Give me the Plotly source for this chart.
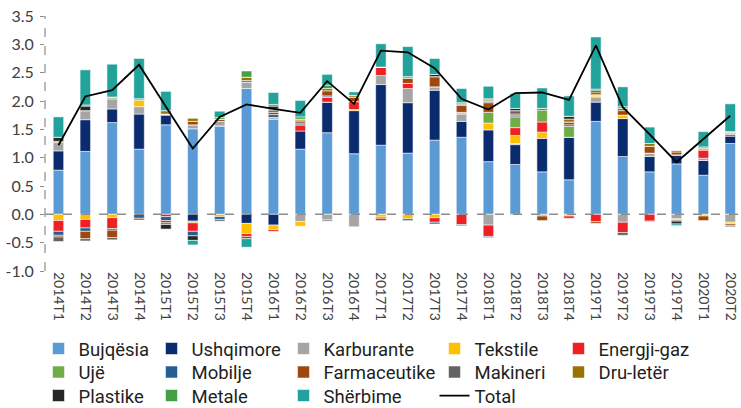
import plotly.graph_objects as go

categories = ["2014T1", "2014T2", "2014T3", "2014T4", "2015T1", "2015T2", "2015T3", "2015T4",
              "2016T1", "2016T2", "2016T3", "2016T4", "2017T1", "2017T2", "2017T3", "2017T4",
              "2018T1", "2018T2", "2018T3", "2018T4", "2019T1", "2019T2", "2019T3", "2019T4",
              "2020T1", "2020T2"]

bujqesia = [0.78, 1.11, 1.62, 1.15, 1.58, 1.51, 1.56, 2.22, 1.68, 1.15, 1.44, 1.07, 1.22, 1.08, 1.31, 1.36,
            0.93, 0.88, 0.75, 0.61, 1.64, 1.02, 0.75, 0.89, 0.69, 1.25]
ushqimore = [0.34, 0.56, 0.24, 0.62, 0.17, -0.12, 0.0, -0.16, -0.19, 0.32, 0.54, 0.76, 1.07, 0.89, 0.88, 0.28,
             0.56, 0.35, 0.59, 0.75, 0.34, 0.67, 0.27, 0.16, 0.26, 0.13]
karburante = [0.15, 0.16, 0.18, 0.13, 0.02, 0.07, 0.08, 0.11, 0.03, -0.13, -0.10, -0.22, 0.16, 0.25, 0.06, 0.13,
              -0.19, 0.02, -0.03, 0.0, 0.09, -0.14, 0.06, -0.08, 0.04, -0.14]
tekstile = [-0.11, -0.09, -0.06, 0.11, 0.0, -0.03, -0.04, -0.18, -0.08, -0.08, 0.0, 0.02, -0.05, -0.08, -0.06, 0.03,
            0.12, 0.14, 0.11, -0.03, 0.02, 0.06, 0.0, -0.02, -0.03, -0.03]
energji = [-0.19, -0.15, -0.19, 0.0, -0.04, -0.15, 0.0, -0.05, -0.03, 0.11, 0.09, 0.14, 0.15, 0.09, -0.08, -0.18,
           -0.20, 0.14, 0.18, -0.04, -0.13, -0.18, -0.12, 0.0, 0.15, 0.03]
uje = [0, 0, 0, 0, 0, 0, 0, 0, 0, 0, 0, 0, 0, 0, 0, 0,
       0.19, 0.19, 0.21, 0.19, 0.02, 0, 0, 0, 0, 0.02]
mobilje = [-0.07, -0.06, -0.03, -0.07, -0.07, -0.08, -0.05, 0.03, 0.05, 0.03, 0.02, 0.0, -0.02, -0.03, -0.03, -0.02,
           -0.02, 0.02, 0.03, 0.03, 0.0, 0.0, -0.01, 0.0, 0.0, 0.02]
farmaceutike = [-0.03, -0.13, -0.13, -0.03, -0.04, 0.06, 0.04, -0.04, 0.04, 0.04, 0.09, 0.08, -0.04, 0.09, 0.18, 0.12,
                0.17, 0.03, -0.08, 0.05, -0.03, 0.08, 0.12, 0.05, -0.08, -0.03]
makineri = [-0.08, -0.04, -0.04, 0, -0.03, 0, -0.03, 0, 0.04, 0, -0.02, 0, 0, 0, 0, 0.03,
            0.02, 0.06, 0, 0, 0, -0.05, 0, -0.02, 0, -0.02]
dru_leter = [0.02, 0, 0.03, 0.03, 0.06, 0.06, 0, 0.06, 0.02, 0.03, 0.04, 0.03, 0, 0.03, 0, 0,
             0.03, 0, 0, 0.05, 0.05, 0.04, 0.05, 0.03, 0.03, 0]
plastike = [0.07, 0.08, 0, 0, -0.08, -0.08, 0, 0, 0.05, 0, 0, 0, 0, 0, 0.04, 0,
            0, 0.04, 0, 0.05, 0.03, 0, 0, -0.05, 0, 0]
metale = [0, 0.02, 0, 0, 0, 0, 0.03, 0.11, 0.03, 0.04, 0.06, 0, 0, 0, 0, 0.02,
          0.02, 0, 0, 0, 0.02, 0.03, 0, 0, 0.02, 0.01]
sherbime = [0.36, 0.62, 0.58, 0.71, 0.34, -0.08, 0.11, -0.15, 0.21, 0.29, 0.19, 0.06, 0.41, 0.53, 0.28, 0.25,
            0.22, 0.26, 0.36, 0.36, 0.92, 0.35, 0.29, -0.03, 0.27, 0.49]
total = [1.22, 2.08, 2.19, 2.64, 1.90, 1.16, 1.72, 1.94, 1.86, 1.79, 2.35, 1.95, 2.89, 2.86, 2.58, 2.04,
         1.85, 2.14, 2.15, 2.02, 2.98, 1.89, 1.41, 0.92, 1.33, 1.74]

y_tickvals = [-1.0, -0.5, 0.0, 0.5, 1.0, 1.5, 2.0, 2.5, 3.0, 3.5]
y_ticktext = ["-1.0", "-0.5", "0.0", "0.5", "1.0", "1.5", "2.0", "2.5", "3.0", "3.5"]

series = [
    ("Bujqësia", bujqesia, "#5B9BD5", "legend", 68),
    ("Ushqimore", ushqimore, "#0A2B6E", "legend", 87),
    ("Karburante", karburante, "#A5A5A5", "legend", 106),
    ("Tekstile", tekstile, "#FFC000", "legend", 79),
    ("Energji-gaz", energji, "#EE2024", "legend", 100),
    ("Ujë", uje, "#70AD47", "legend2", 68),
    ("Mobilje", mobilje, "#255E91", "legend2", 87),
    ("Farmaceutike", farmaceutike, "#9E480E", "legend2", 106),
    ("Makineri", makineri, "#636363", "legend2", 79),
    ("Dru-letër", dru_leter, "#997300", "legend2", 100),
    ("Plastike", plastike, "#262626", "legend3", 68),
    ("Metale", metale, "#43A047", "legend3", 87),
    ("Shërbime", sherbime, "#21A29B", "legend3", 106),
]

fig = go.Figure()
for name, vals, color, lg, lw in series:
    fig.add_trace(go.Bar(
        x=categories, y=vals, name=name, legend=lg, legendwidth=lw,
        marker=dict(color=color, line=dict(color="rgba(255,255,255,0.55)", width=1)),
    ))
fig.add_trace(go.Scatter(
    x=categories, y=total, name="Total", mode="lines", legend="legend3", legendwidth=79,
    line=dict(color="#000000", width=1.8),
))

W, H = 741, 408
ml, mt, mb, mr = 44.5, 16, 137.3, 0
legend_font = dict(family="Roboto, sans-serif", size=18.5, color="#231F20")


def leg(ypx):
    return dict(orientation="h", xref="container", yref="container",
                x=38.5 / W, xanchor="left", y=1 - ypx / H, yanchor="middle",
                font=legend_font, bgcolor="rgba(0,0,0,0)", borderwidth=0,
                traceorder="normal", tracegroupgap=0)


fig.update_layout(
    width=W, height=H,
    margin=dict(l=ml, r=mr, t=mt, b=mb, pad=0, autoexpand=False),
    barmode="relative",
    bargap=0.61,
    plot_bgcolor="white",
    paper_bgcolor="white",
    legend=leg(349),
    legend2=leg(372.5),
    legend3=leg(396),
    xaxis=dict(
        type="category", range=[-0.5, 25.4], showgrid=False, showline=False, zeroline=False,
        ticks="", tickangle=90, automargin=False,
        tickfont=dict(family="Lato, DejaVu Sans, sans-serif", size=14, color="#404040"),
    ),
    yaxis=dict(
        range=[-1.0, 3.5], tickvals=y_tickvals, ticktext=y_ticktext,
        showgrid=False, showline=False, zeroline=False, automargin=False,
        ticks="outside", ticklen=4, tickcolor="#8C8C8C", tickwidth=1,
        ticklabelstandoff=3,
        tickfont=dict(family="Lato, DejaVu Sans, sans-serif", size=16, color="#404040"),
    ),
    shapes=[
        dict(type="line", xref="paper", yref="y", x0=0, x1=0, y0=-1.0, y1=3.5,
             line=dict(color="#8C8C8C", width=1.2, dash="dash"), layer="above"),
        dict(type="line", xref="paper", yref="y", x0=0, x1=1, y0=0, y1=0,
             line=dict(color="#8C8C8C", width=1.5, dash="dash"), layer="above"),
    ],
    showlegend=True,
)

fig.write_html("out.html", config={"displayModeBar": False},
               post_script="document.body.style.margin='0';document.body.style.overflow='hidden';")
